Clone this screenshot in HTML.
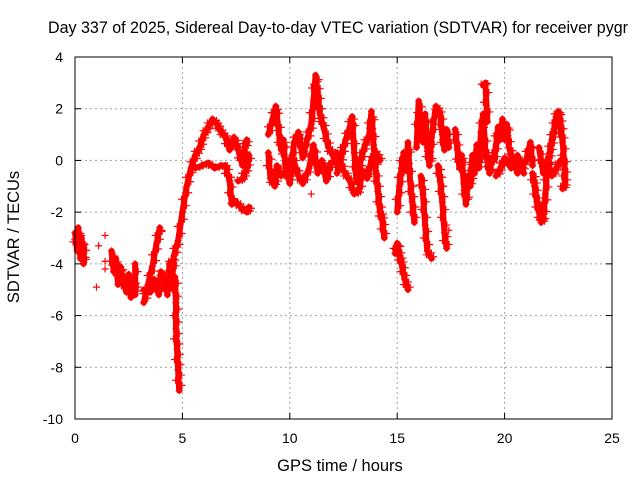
<!DOCTYPE html>
<html><head><meta charset="utf-8"><style>
html,body{margin:0;padding:0;background:#fff;width:640px;height:480px;overflow:hidden}
svg text{font-family:"Liberation Sans",sans-serif;font-size:14px;fill:#000}
svg text.big{font-size:16.5px}
</style></head><body>
<svg id="chart" width="640" height="480" viewBox="0 0 640 480" xmlns="http://www.w3.org/2000/svg">
<text class="big" x="48" y="33" textLength="580" lengthAdjust="spacingAndGlyphs">Day 337 of 2025, Sidereal Day-to-day VTEC variation (SDTVAR) for receiver pygr</text>
<text class="big" x="340" y="471" text-anchor="middle">GPS time / hours</text>
<text class="big" transform="translate(19,237) rotate(-90)" text-anchor="middle">SDTVAR / TECUs</text>
<g id="grid"></g><g id="marks"></g><g id="axes"></g>
</svg>
<script>
const xTicks=[0,5,10,15,20,25];
const yTicks=[4,2,0,-2,-4,-6,-8,-10];
const track01=[[0,-2.8],[0.1,-3.5],[0.15,-2.6],[0.25,-3.8],[0.3,-3.0],[0.4,-4.0],[0.4,-3.3]];
const sparse=[[1,-4.9],[1.1,-3.3],[1.4,-2.9],[1.4,-4.2],[1.4,-3.9],[4.05,-2.7],[11.0,-1.3],[17.4,-2.7]];
const track02=[[1.7,-3.5],[1.8,-4.3],[1.9,-3.8],[2.0,-4.8],[2.1,-4.1],[2.2,-4.6],[2.4,-5.1],[2.5,-4.4],[2.6,-5.3],[2.7,-4.6],[2.8,-5.2],[2.8,-4.0]];
const track03=[[3.2,-5.5],[3.4,-4.8],[3.6,-4.1],[3.8,-3.2],[3.95,-2.6]];
const track04=[[3.2,-5.0],[3.5,-5.1],[3.7,-4.6],[3.9,-5.2],[4.0,-4.3],[4.2,-4.6],[4.3,-5.2],[4.4,-4.0],[4.6,-3.8],[4.5,-4.9]];
const track05=[[4.65,-4.5],[4.7,-5.5],[4.7,-6.5],[4.75,-7.3],[4.8,-8.1],[4.85,-8.9]];
const track06=[[4.6,-3.7],[4.8,-3.1],[5.0,-2.0],[5.2,-1.0],[5.4,-0.3],[5.6,0.2],[5.8,0.5],[6.0,1.0],[6.2,1.3],[6.4,1.6],[6.6,1.4],[6.8,1.1],[7.0,0.9],[7.2,0.4],[7.4,0.9],[7.6,0.4],[7.8,-0.2],[7.9,0.5],[8.0,0.8]];
const track07=[[5.6,-0.3],[5.9,-0.2],[6.2,-0.1],[6.5,-0.3],[6.8,-0.2],[7.0,-0.2],[7.2,-0.8],[7.3,-1.7],[7.5,-1.6],[7.8,-1.9],[8.0,-2.0],[8.1,-1.8]];
const track08=[[7.6,-0.8],[7.8,-0.7],[8.0,-0.3],[8.1,0.2]];
const track09=[[9.0,1.0],[9.2,1.6],[9.35,2.1],[9.5,1.0],[9.6,0.4],[9.7,0.8],[9.8,-0.3],[10.0,-0.9],[10.2,0.7],[10.4,1.1],[10.6,0.1],[10.8,0.8],[11.0,1.4],[11.1,2.3],[11.2,3.3],[11.3,2.6],[11.4,1.8],[11.6,1.2],[11.8,0.5],[12.0,0.2],[12.2,-0.2]];
const track10=[[9.0,0.3],[9.1,-0.7],[9.3,-1.0],[9.4,-0.2],[9.6,-0.6],[9.9,-0.4],[10.1,0.2],[10.4,-0.6],[10.6,-0.9],[10.9,-0.3],[11.1,0.6],[11.3,-0.5],[11.5,0.0],[11.7,-0.8],[11.9,-0.1]];
const track11=[[12.2,-0.5],[12.4,0.2],[12.6,0.8],[12.8,1.3],[12.9,1.7],[13.0,0.3],[13.1,-0.8],[13.3,0.0],[13.5,0.6],[13.7,1.0],[13.8,1.9],[13.9,0.6],[14.0,-0.4],[14.1,-1.2],[14.2,-2.0],[14.3,-2.3],[14.4,-3.0]];
const track12=[[12.2,0.3],[12.5,-0.4],[12.8,-0.8],[13.0,-1.3],[13.2,-1.2],[13.4,-0.4],[13.6,-0.7],[13.8,0.0],[14.0,0.3],[14.2,0.0]];
const track13=[[14.9,-3.6],[15.0,-3.2],[15.1,-3.7],[15.2,-4.0],[15.35,-4.6],[15.5,-5.0]];
const track14=[[15.0,-2.0],[15.1,-1.0],[15.2,-0.3],[15.3,0.3],[15.4,-0.4],[15.5,0.7],[15.6,-0.8],[15.7,-1.6],[15.8,-2.4]];
const track15=[[15.9,0.5],[16.0,2.3],[16.1,1.4],[16.2,0.7],[16.3,1.8],[16.4,0.5],[16.5,-0.2],[16.6,0.9],[16.8,2.1],[17.0,1.8],[17.1,1.0],[17.2,0.4],[17.3,1.2],[17.4,0.5]];
const track16=[[16.1,-0.6],[16.2,-1.3],[16.3,-2.5],[16.4,-3.5],[16.6,-3.8]];
const track17=[[16.9,-0.2],[17.0,-0.8],[17.1,-1.6],[17.2,-2.8],[17.3,-3.4]];
const track18=[[17.7,1.2],[17.8,0.4],[17.9,-0.3],[18.0,0.2],[18.1,-0.9],[18.2,-1.7],[18.3,-0.6],[18.4,-1.0],[18.5,0.2],[18.6,-0.5],[18.7,0.6],[18.8,-0.3],[18.9,1.1],[19.0,1.8],[19.1,0.4],[19.2,0.0],[19.3,-0.5],[19.4,0.1]];
const track19=[[19.0,2.9],[19.1,3.0],[19.2,1.5]];
const track20=[[19.5,0.0],[19.6,0.6],[19.7,1.3],[19.8,0.8],[19.9,1.6],[20.0,0.8],[20.1,1.4],[20.2,0.5],[20.4,0.0],[20.6,-0.5],[20.8,-0.2],[21.0,0.0],[21.2,0.7],[21.3,-0.2]];
const track21=[[19.6,-0.6],[19.8,-0.3],[20.0,0.1],[20.3,-0.3],[20.6,0.2],[20.9,-0.5]];
const track22=[[21.3,-0.5],[21.4,-1.0],[21.5,-1.6],[21.6,-2.0],[21.7,-2.4],[21.8,-2.2],[21.9,-1.3],[22.0,-0.2],[22.1,0.3],[22.2,0.8],[22.3,1.2],[22.4,1.7],[22.5,1.9],[22.6,1.4],[22.7,0.7],[22.8,-0.3],[22.8,-0.9],[22.7,-1.1]];
const track23=[[21.6,0.5],[21.8,-0.5],[22.0,0.0],[22.2,-0.6],[22.4,-0.3],[22.6,0.0]];
const tracks=[track01,track02,track03,track04,track05,track06,track07,track08,track09,track10,track11,track12,track13,track14,track15,track16,track17,track18,track19,track20,track21,track22,track23];

const L=75,R=612,T=57,B=419,XMIN=0,XMAX=25,YMIN=-10,YMAX=4;
function xs(t){return L+(t-XMIN)/(XMAX-XMIN)*(R-L);}
function ys(v){return B-(v-YMIN)/(YMAX-YMIN)*(B-T);}
const NS='http://www.w3.org/2000/svg';
function mk(tag,attrs,parent){const e=document.createElementNS(NS,tag);for(const k in attrs)e.setAttribute(k,attrs[k]);parent.appendChild(e);return e;}
const grid=document.getElementById('grid'),marks=document.getElementById('marks'),axes=document.getElementById('axes');
xTicks.forEach(t=>{const x=xs(t);
 if(t>XMIN&&t<XMAX){const g=mk('line',{x1:x,y1:T,x2:x,y2:B,stroke:'#a0a0a0','stroke-dasharray':'2,3'},grid);
 
 }
 mk('line',{x1:x,y1:B,x2:x,y2:B-6,stroke:'#000'},axes);mk('line',{x1:x,y1:T,x2:x,y2:T+6,stroke:'#000'},axes);
 const lb=mk('text',{x:x,y:443,'text-anchor':'middle'},axes);lb.textContent=t;
 
 
});
yTicks.forEach(v=>{const y=ys(v);
 if(v>YMIN&&v<YMAX){const g=mk('line',{x1:L,y1:y,x2:R,y2:y,stroke:'#a0a0a0','stroke-dasharray':'2,3'},grid);
 
 }
 mk('line',{x1:L,y1:y,x2:L+6,y2:y,stroke:'#000'},axes);mk('line',{x1:R,y1:y,x2:R-6,y2:y,stroke:'#000'},axes);
 const lb=mk('text',{x:63,y:y+5,'text-anchor':'end'},axes);lb.textContent=v;
 
 
});
const fr=mk('rect',{x:L,y:T,width:R-L,height:B-T,fill:'none',stroke:'#000'},axes);


function plus(x,y,parent){mk('path',{d:`M${x-3.5},${y}H${x+3.5}M${x},${y-3.5}V${y+3.5}`,stroke:'#f00','stroke-width':1.2,fill:'none'},parent);}
tracks.forEach(tr=>{
 const g=mk('g',{},marks);
 
 
 mk('polyline',{points:tr.map(p=>xs(p[0])+','+ys(p[1])).join(' '),fill:'none',stroke:'#f00','stroke-width':6,'stroke-linejoin':'round','stroke-linecap':'round'},g);
 tr.forEach(p=>plus(xs(p[0]),ys(p[1]),g));
 for(let i=1;i<tr.length;i++){for(let k=1;k<4;k++){const f=k/4;plus(xs(tr[i-1][0]+(tr[i][0]-tr[i-1][0])*f)+((k%2)?3:-3),ys(tr[i-1][1]+(tr[i][1]-tr[i-1][1])*f),g);}}
});
const sg=mk('g',{},marks);


sparse.forEach(p=>plus(xs(p[0]),ys(p[1]),sg));
</script>
</body></html>
